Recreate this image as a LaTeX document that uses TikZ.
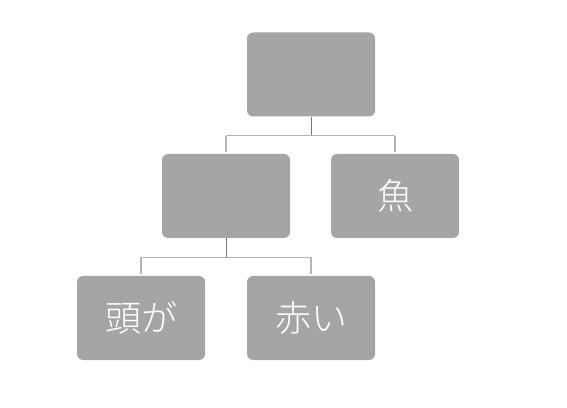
\documentclass[tikz,border=0pt]{standalone}
\usepackage{fontspec}
\newfontfamily\cjk{Noto Sans CJK JP}[UprightFont=* Light]
\usetikzlibrary{calc}
\definecolor{boxgray}{HTML}{A5A5A5}
\definecolor{stemgray}{HTML}{767676}
\definecolor{branchgray}{HTML}{B4B4B4}
\tikzset{
  orgbox/.style={rectangle, rounded corners=6pt, fill=boxgray, draw=none,
    minimum width=128pt, minimum height=84pt, inner sep=0pt,
    text=white, font=\cjk\fontsize{36pt}{42pt}\selectfont},
  stem/.style={draw=stemgray, line width=1pt},
  branch/.style={draw=branchgray, line width=1.2pt},
}
\begin{document}
\begin{tikzpicture}[x=1pt,y=1pt]
\useasboundingbox (0,0) rectangle (567,407);
\node[orgbox] (top) at (311,332.5) {};
\node[orgbox] (ml) at (226,211) {};
\node[orgbox] (mr) at (395,211) {魚};
\node[orgbox] (bl) at (141,89) {頭が};
\node[orgbox] (bm) at (311,89) {赤い};
% top level connectors
\coordinate (j1) at ($(top.south)+(0,-19)$);
\draw[stem] (top.south) -- (j1);
\draw[branch] (ml.north |- j1) -- (mr.north |- j1);
\draw[branch] (ml.north |- j1) -- ($(ml.north)+(0,2)$);
\draw[branch] (mr.north |- j1) -- ($(mr.north)+(0,2)$);
% second level connectors
\coordinate (j2) at ($(ml.south)+(0,-19)$);
\draw[stem] (ml.south) -- (j2);
\draw[branch] (bl.north |- j2) -- (bm.north |- j2);
\draw[branch] (bl.north |- j2) -- ($(bl.north)+(0,2)$);
\draw[branch] (bm.north |- j2) -- ($(bm.north)+(0,2)$);
\end{tikzpicture}
\end{document}
